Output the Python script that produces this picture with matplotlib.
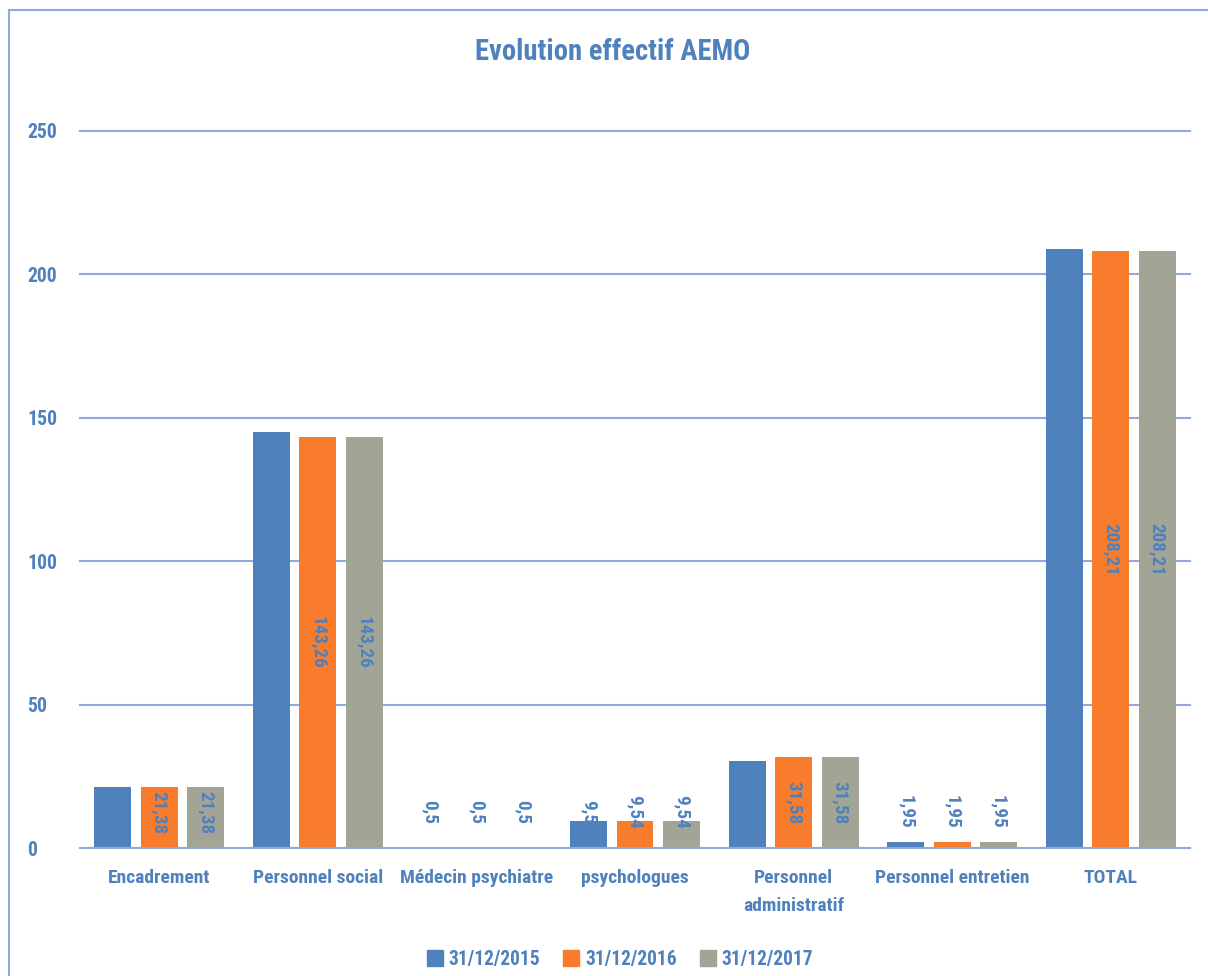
#!/usr/bin/env python3
# Evolution effectif AEMO : histogramme groupé par catégorie
import os
import numpy as np
import matplotlib
matplotlib.use('Agg')
import matplotlib.pyplot as plt
from matplotlib import font_manager
from matplotlib.font_manager import FontProperties
from matplotlib.lines import Line2D
from matplotlib.textpath import TextToPath

categories = ['Encadrement', 'Personnel social', 'Médecin psychiatre', 'psychologues',
              'Personnel\nadministratif', 'Personnel entretien', 'TOTAL']
series_names = ['31/12/2015', '31/12/2016', '31/12/2017']
v2015 = [21.38, 145.2, 0.5, 9.5, 30.3, 1.95, 208.8]
v2016 = [21.38, 143.26, 0.5, 9.54, 31.58, 1.95, 208.21]
v2017 = [21.38, 143.26, 0.5, 9.54, 31.58, 1.95, 208.21]
# étiquettes affichées (None = pas d'étiquette)
lab2015 = [None, None, '0,5', '9,5', None, '1,95', None]
lab2016 = ['21,38', '143,26', '0,5', '9,54', '31,58', '1,95', '208,21']
lab2017 = ['21,38', '143,26', '0,5', '9,54', '31,58', '1,95', '208,21']
yticks = [0, 50, 100, 150, 200, 250]

colors = ['#4f81bd', '#f97c2c', '#a2a595']
txt_col = '#4f81bd'
grid_col = '#8eaadb'

# police étroite et grasse si disponible
def pick_font():
  prefs = ['roboto', 'noto', 'liberation', 'open', 'dejavu', '']
  cands = []
  for f in font_manager.fontManager.ttflist:
    fn = os.path.basename(f.fname).lower()
    narrow = ('condensed' in fn or 'narrow' in fn or 'cond' in f.name.lower()
              or 'narrow' in f.name.lower() or f.stretch in ('condensed', 'semi-condensed'))
    bold = (f.weight in ('bold', 700, 'semibold', 600)) or 'bold' in fn
    if narrow and bold and 'italic' not in fn and 'oblique' not in fn and 'extra' not in fn \
       and 'cjk' not in fn:
      cands.append(f)
  for p in prefs:
    for f in cands:
      if p in os.path.basename(f.fname).lower():
        return f.fname
  return None

fpath = pick_font()

def fp(size):
  if fpath:
    return FontProperties(fname=fpath, size=size)
  return FontProperties(family='DejaVu Sans', weight='bold', size=size)

t2p = TextToPath()
def fit(s, target_px, max_pt):
  w = t2p.get_text_width_height_descent(s, fp(10), ismath=False)[0] * 100/72
  return min(10*target_px/w, max_pt)

sz_title = fit('Evolution effectif AEMO', 275, 25)
sz_cat = fit('Encadrement', 102, 17)
sz_tick = fit('250', 30, 20)
sz_leg = fit('31/12/2015', 92, 18)
sz_lab = fit('208,21', 53, 20)

fig = plt.figure(figsize=(12.08, 9.76), dpi=100)
W, H = 1208, 976
ax = fig.add_axes([80/W, 1-848/H, 1110/W, 717/H])

x = np.arange(len(categories))
step = 0.293
width = 0.233
vals = [v2015, v2016, v2017]
labs = [lab2015, lab2016, lab2017]
for i in range(3):
  xs = x + (i-1)*step
  ax.bar(xs, vals[i], width=width, color=colors[i], zorder=3)
  for xi, v, lb in zip(xs, vals[i], labs[i]):
    if lb is None:
      continue
    ax.text(xi, max(v/2, 12.5), lb, rotation=270, ha='center', va='center',
            color=txt_col, fontproperties=fp(sz_lab), zorder=4)

ax.set_xlim(-0.5, len(categories)-0.5)
ax.set_ylim(0, 250)
ax.set_yticks(yticks)
ax.grid(axis='y', color=grid_col, linewidth=1.5, zorder=0)
for gl in ax.get_ygridlines():
  gl.set_clip_on(False)
for s in ['top', 'right', 'left']:
  ax.spines[s].set_visible(False)
ax.spines['bottom'].set_color(grid_col)
ax.spines['bottom'].set_linewidth(1.5)
ax.spines['bottom'].set_zorder(5)
ax.set_xticks(x)
ax.set_xticklabels(categories, color=txt_col, linespacing=1.75)
for t in ax.get_xticklabels():
  t.set_fontproperties(fp(sz_cat))
ax.tick_params(axis='x', length=0, pad=15)
ax.tick_params(axis='y', length=0, pad=38, labelcolor=txt_col)
for t in ax.get_yticklabels():
  t.set_ha('left')
  t.set_fontproperties(fp(sz_tick))

fig.text(613/W, 1-52/H, 'Evolution effectif AEMO', ha='center', va='center',
         fontproperties=fp(sz_title), color=txt_col)

handles = [Line2D([], [], marker='s', linestyle='none', markersize=11,
                  markerfacecolor=c, markeredgecolor=c) for c in colors]
leg = fig.legend(handles, series_names, loc='center', bbox_to_anchor=(620/W, 1-959/H),
                 ncol=3, frameon=False, prop=fp(sz_leg), handlelength=0.8,
                 handletextpad=0.3, columnspacing=1.2)
for t in leg.get_texts():
  t.set_color(txt_col)

# cadre du graphique (bords gauche et haut visibles)
fig.add_artist(Line2D([9/W, 9/W], [1-10/H, 0], color=grid_col, linewidth=1.5))
fig.add_artist(Line2D([9/W, 1], [1-10/H, 1-10/H], color=grid_col, linewidth=1.5))

fig.savefig('out.png', dpi=100)
